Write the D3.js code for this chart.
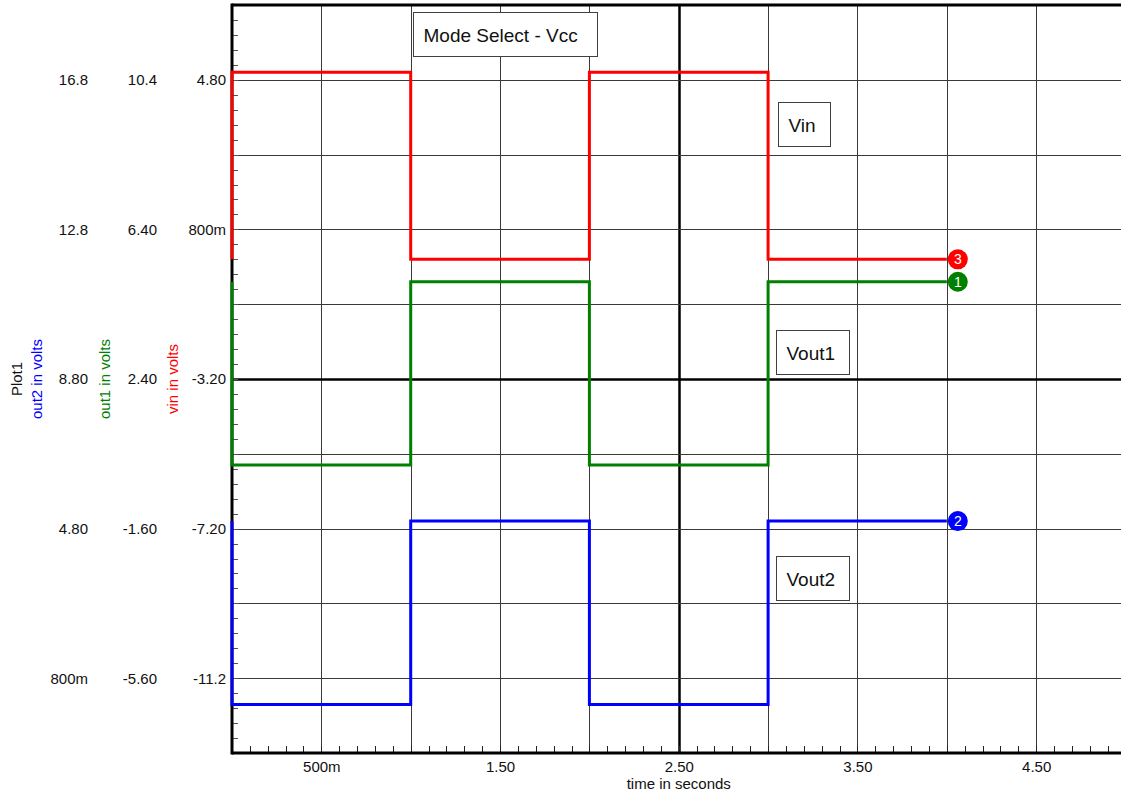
<!DOCTYPE html>
<html>
<head>
<meta charset="utf-8">
<script src="https://cdn.jsdelivr.net/npm/d3@7"></script>
<style>
  html, body { margin: 0; padding: 0; background: #fff; }
  svg { display: block; font-family: "Liberation Sans", Arial, sans-serif; }
</style>
</head>
<body>
<svg id="chart" width="1121" height="798"></svg>
<script>
// Transient waveform samples (seconds / volts)
const times = [0, 0, 1, 1, 2, 2, 3, 3, 4];
const vin   = [0, 5, 5, 0, 0, 5, 5, 0, 0];
const out1  = [5, 0.1, 0.1, 5, 5, 0.1, 0.1, 5, 5];
const out2  = [5, 0.1, 0.1, 5, 5, 0.1, 0.1, 5, 5];

// Axis domains for the three stacked voltage scales and the time axis
const vinDomain  = [-13.2, 6.8];
const out1Domain = [-7.6, 12.4];
const out2Domain = [-1.2, 18.8];
const timeDomain = [0, 5];

// Tick values and their printed labels
const timeTicks      = [0.5, 1.5, 2.5, 3.5, 4.5];
const timeTickLabels = ["500m", "1.50", "2.50", "3.50", "4.50"];
const vinTicks       = [4.8, 0.8, -3.2, -7.2, -11.2];
const vinTickLabels  = ["4.80", "800m", "-3.20", "-7.20", "-11.2"];
const out1Ticks      = [10.4, 6.4, 2.4, -1.6, -5.6];
const out1TickLabels = ["10.4", "6.40", "2.40", "-1.60", "-5.60"];
const out2Ticks      = [16.8, 12.8, 8.8, 4.8, 0.8];
const out2TickLabels = ["16.8", "12.8", "8.80", "4.80", "800m"];

// Trace names, colours and end-marker numbers
const traceNames   = ["vin", "out1", "out2"];
const traceColors  = ["#ff0000", "#008000", "#0000ff"];
const traceMarkers = ["3", "1", "2"];

// Text boxes placed on the plot (time, vin-scale volts of the box's top-left corner)
const noteTexts = ["Mode Select - Vcc", "Vin", "Vout1", "Vout2"];
const noteTimes = [1.012, 3.055, 3.045, 3.045];
const noteVolts = [6.62, 4.2, -1.88, -7.93];
const noteWidths = [184, 52, 73, 73];

const svg = d3.select("#chart");
const plot = { left: 232, top: 5, bottom: 753, right: 1125.5 };

const x = d3.scaleLinear().domain(timeDomain).range([plot.left, plot.right]);
const yVin  = d3.scaleLinear().domain(vinDomain).range([plot.bottom, plot.top]);
const yOut1 = d3.scaleLinear().domain(out1Domain).range([plot.bottom, plot.top]);
const yOut2 = d3.scaleLinear().domain(out2Domain).range([plot.bottom, plot.top]);
const yScales = [yVin, yOut1, yOut2];
const series = [vin, out1, out2];

const snap = v => Math.round(v) + 0.5;

// Grid
const grid = svg.append("g");
const vGrid = d3.range(timeDomain[0] + 0.5, timeDomain[1], 0.5);
grid.selectAll("line.v").data(vGrid).join("line")
  .attr("x1", d => snap(x(d))).attr("x2", d => snap(x(d)))
  .attr("y1", plot.top).attr("y2", plot.bottom)
  .attr("stroke", d => d === 2.5 ? "#000" : "#3a3a3a")
  .attr("stroke-width", d => d === 2.5 ? 2.5 : 1);
const hGrid = d3.range(vinDomain[0] + 2, vinDomain[1] - 0.01, 2);
grid.selectAll("line.h").data(hGrid).join("line")
  .attr("x1", plot.left).attr("x2", plot.right)
  .attr("y1", d => snap(yVin(d))).attr("y2", d => snap(yVin(d)))
  .attr("stroke", d => Math.abs(d + 3.2) < 1e-6 ? "#000" : "#3a3a3a")
  .attr("stroke-width", d => Math.abs(d + 3.2) < 1e-6 ? 2.5 : 1);

// Minor ticks on the voltage axis
const yMinor = d3.range(vinDomain[0], vinDomain[1] + 0.001, 0.4);
svg.append("g").selectAll("line").data(yMinor).join("line")
  .attr("x1", plot.left).attr("x2", plot.left + 6)
  .attr("y1", d => snap(yVin(d))).attr("y2", d => snap(yVin(d)))
  .attr("stroke", "#555").attr("stroke-width", 1);

// Minor ticks on the time axis
const xMinor = d3.range(timeDomain[0], timeDomain[1] + 0.001, 0.1);
svg.append("g").selectAll("line").data(xMinor).join("line")
  .attr("x1", d => snap(x(d))).attr("x2", d => snap(x(d)))
  .attr("y1", plot.bottom - 7).attr("y2", plot.bottom)
  .attr("stroke", "#222").attr("stroke-width", 1);

// Frame: left axis, bottom axis, top border
const frame = svg.append("g").attr("stroke", "#000").attr("stroke-width", 3);
frame.append("line").attr("x1", plot.left).attr("x2", plot.left).attr("y1", plot.top - 1.5).attr("y2", plot.bottom + 1.5);
frame.append("line").attr("x1", plot.left).attr("x2", plot.right).attr("y1", plot.bottom).attr("y2", plot.bottom);
frame.append("line").attr("x1", plot.left).attr("x2", plot.right).attr("y1", plot.top).attr("y2", plot.top);

// Time axis labels
const xAxis = d3.axisBottom(x).tickValues(timeTicks)
  .tickFormat((d, i) => timeTickLabels[i]).tickSize(0).tickPadding(0);
const gx = svg.append("g").attr("transform", `translate(0,${plot.bottom})`).call(xAxis);
gx.select(".domain").remove();
gx.selectAll("text").attr("y", 19).attr("dy", 0)
  .attr("font-size", 15).attr("fill", "#111")
  .attr("font-family", "Liberation Sans, Arial, sans-serif");
svg.append("text").attr("x", x(2.5)).attr("y", 789)
  .attr("text-anchor", "middle").attr("font-size", 15).attr("fill", "#111")
  .text("time in seconds");

// Voltage axes: three label columns sharing the same grid
const yTickSets = [
  { scale: yVin,  ticks: vinTicks,  labels: vinTickLabels,  offset: 0 },
  { scale: yOut1, ticks: out1Ticks, labels: out1TickLabels, offset: 69 },
  { scale: yOut2, ticks: out2Ticks, labels: out2TickLabels, offset: 138 }
];
yTickSets.forEach(s => {
  const ax = d3.axisLeft(s.scale).tickValues(s.ticks)
    .tickFormat((d, i) => s.labels[i]).tickSize(0).tickPadding(6);
  const g = svg.append("g").attr("transform", `translate(${plot.left - s.offset},0)`).call(ax);
  g.select(".domain").remove();
  g.selectAll("text").attr("font-size", 15).attr("fill", "#111")
    .attr("font-family", "Liberation Sans, Arial, sans-serif")
    .attr("dy", "0.33em");
});

// Rotated axis titles
const midY = (plot.top + plot.bottom) / 2;
const titles = [
  { text: "Plot1", x: 22, color: "#111" },
  { text: "out2 in volts", x: 42, color: traceColors[2] },
  { text: "out1 in volts", x: 110, color: traceColors[1] },
  { text: "vin in volts", x: 178, color: traceColors[0] }
];
svg.append("g").selectAll("text").data(titles).join("text")
  .attr("transform", d => `translate(${d.x},${midY}) rotate(-90)`)
  .attr("text-anchor", "middle").attr("font-size", 15)
  .attr("fill", d => d.color).text(d => d.text);

// Waveforms
const traces = svg.append("g");
series.forEach((vals, k) => {
  const pts = times.map((t, i) => [t, vals[i]]);
  const line = d3.line().x(d => x(d[0])).y(d => yScales[k](d[1]));
  traces.append("path").datum(pts)
    .attr("d", line).attr("fill", "none")
    .attr("stroke", traceColors[k]).attr("stroke-width", 3)
    .attr("stroke-linejoin", "miter").attr("stroke-linecap", "butt");
});

// Numbered end markers
series.forEach((vals, k) => {
  const n = times.length - 1;
  const cx = x(times[n]) + 11;
  const cy = yScales[k](vals[n]);
  const g = svg.append("g");
  g.append("circle").attr("cx", cx).attr("cy", cy).attr("r", 10).attr("fill", traceColors[k]);
  g.append("text").attr("x", cx).attr("y", cy).attr("dy", "0.36em")
    .attr("text-anchor", "middle").attr("font-size", 14).attr("fill", "#fff")
    .text(traceMarkers[k]);
});

// Text boxes
const notes = svg.append("g");
noteTexts.forEach((txt, i) => {
  const bx = Math.round(x(noteTimes[i])) + 0.5;
  const by = Math.round(yVin(noteVolts[i])) + 0.5;
  notes.append("rect").attr("x", bx).attr("y", by)
    .attr("width", noteWidths[i]).attr("height", 44)
    .attr("fill", "#fff").attr("stroke", "#404040").attr("stroke-width", 1);
  notes.append("text").attr("x", bx + 10).attr("y", by + 29)
    .attr("font-size", 19).attr("fill", "#111").text(txt);
});
</script>
</body>
</html>
